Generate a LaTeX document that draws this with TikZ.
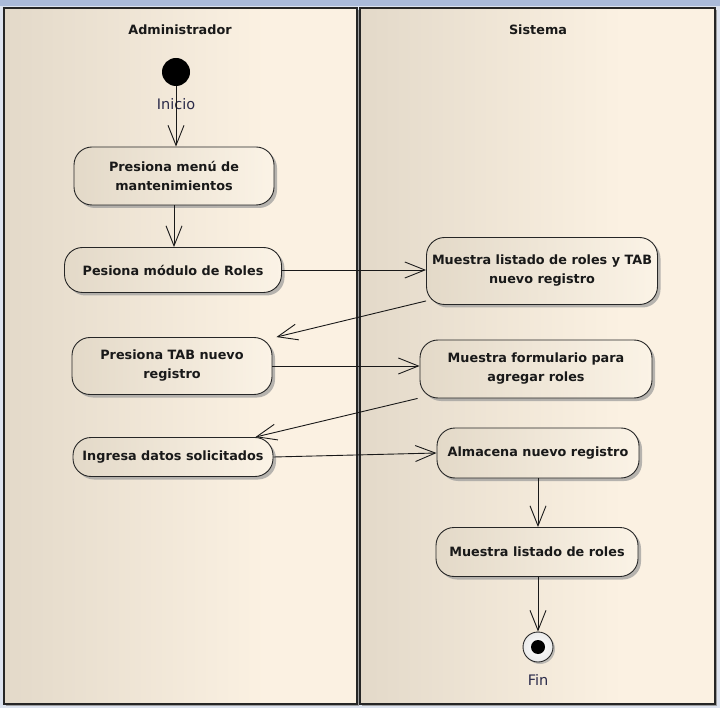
\documentclass[tikz,border=0pt]{standalone}
\usepackage{fontspec}
\setmainfont{DejaVu Sans}
\usetikzlibrary{arrows.meta,shadows}
\definecolor{laneL}{HTML}{E3D9C9}
\definecolor{laneR}{HTML}{FBF1E2}
\definecolor{actL}{HTML}{E3D9C8}
\definecolor{actR}{HTML}{FBF3E6}
\definecolor{frame}{HTML}{DDE3EF}
\definecolor{topbar}{HTML}{AABAD9}
\definecolor{lbl}{HTML}{2B2B4A}
\pgfdeclarehorizontalshading{lanefade}{100bp}{color(0bp)=(laneL); color(25bp)=(laneL); color(62bp)=(laneR); color(100bp)=(laneR)}
\begin{document}
\begin{tikzpicture}[x=1pt,y=-1pt,
    lane/.style={draw=black!85, line width=1.2pt, shading=lanefade,
      drop shadow={shadow xshift=2pt, shadow yshift=-2pt, fill=black!45, opacity=0.8}},
    lanetitle/.style={font=\fontsize{12.8}{15}\selectfont\bfseries, text=black!90},
    action/.style={rounded corners=18pt, draw=black!85, line width=0.9pt,
      left color=actL, right color=actR, align=center, inner sep=2pt,
      font=\fontsize{12.8}{19}\selectfont\bfseries, text=black!90,
      drop shadow={shadow xshift=3pt, shadow yshift=-3pt, fill=black!40, opacity=0.7}},
    initial/.style={circle, fill=black, minimum size=28pt, inner sep=0pt},
    final/.style={circle, draw=black!85, line width=0.9pt, inner color=white, outer color=black!8,
      minimum size=30pt, inner sep=0pt,
      drop shadow={shadow xshift=2pt, shadow yshift=-2pt, fill=black!35, opacity=0.7},
      path picture={\fill[black] (path picture bounding box.center) circle (7pt);}},
    statelabel/.style={font=\fontsize{14.5}{16}\selectfont, text=lbl},
    flow/.style={draw=black!90, line width=0.9pt,
      -{Straight Barb[length=20pt,width=16pt,line width=0.9pt]}}]
  \useasboundingbox (0,0) rectangle (720,708);
  \fill[frame] (0,0) rectangle (720,708);
  \fill[topbar] (0,0) rectangle (720,6);
  % swimlanes
  \path[lane] (4,8) rectangle (357,704);
  \path[lane] (360,8) rectangle (715,704);
  \node[lanetitle] (admin) at (180,30) {Administrador};
  \node[lanetitle] (sist) at (538,30) {Sistema};
  % Administrador
  \node[initial] (start) at (176,72) {};
  \node[statelabel] (startlbl) at (176,104) {Inicio};
  \node[action, minimum width=200pt, minimum height=58pt] (menu) at (174,176) {Presiona menú de\\mantenimientos};
  \node[action, minimum width=217pt, minimum height=45pt] (modulo) at (173,270) {Pesiona módulo de Roles};
  \node[action, minimum width=200pt, minimum height=57pt] (tab) at (172,366) {Presiona TAB nuevo\\registro};
  \node[action, minimum width=200pt, minimum height=39pt] (datos) at (173,457) {Ingresa datos solicitados};
  % Sistema
  \node[action, minimum width=231pt, minimum height=67pt] (listtab) at (542,271) {Muestra listado de roles y TAB\\nuevo registro};
  \node[action, minimum width=232pt, minimum height=58pt] (form) at (536,369) {Muestra formulario para\\agregar roles};
  \node[action, minimum width=202pt, minimum height=50pt] (store) at (538,453) {Almacena nuevo registro};
  \node[action, minimum width=202pt, minimum height=49pt] (list) at (537,552) {Muestra listado de roles};
  \node[final] (end) at (538,647) {};
  \node[statelabel] (endlbl) at (538,680) {Fin};
  % flujo
  \draw[flow] (start) -- (menu.north -| start);
  \draw[flow] (menu) -- (modulo.north -| menu);
  \draw[flow] (modulo.east) -- (listtab.west |- modulo.east);
  \draw[flow] ([yshift=4pt]listtab.south west) -- ([xshift=4pt]tab.north east);
  \draw[flow] (tab.east) -- (form.west |- tab.east);
  \draw[flow] ([xshift=-2pt]form.south west) -- ([xshift=-18pt]datos.north east);
  \draw[flow] (datos.east) -- (store.west);
  \draw[flow] (store) -- (list.north -| store);
  \draw[flow] (list.south -| end) -- (end);
\end{tikzpicture}
\end{document}
